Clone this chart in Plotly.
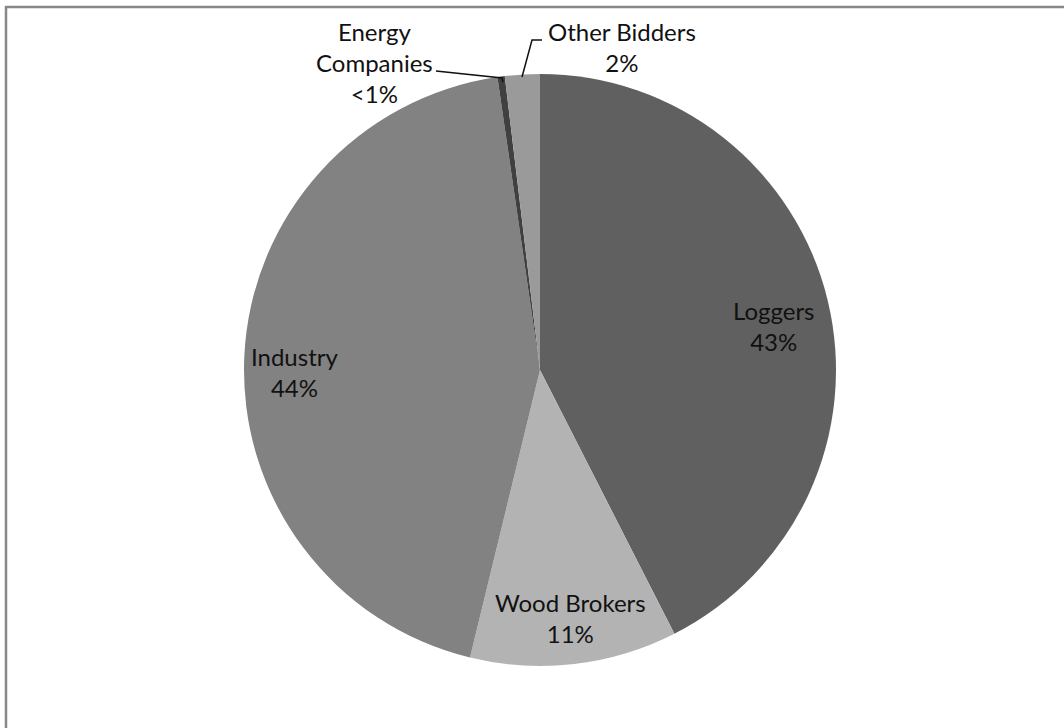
import plotly.graph_objects as go

categories = ["Loggers", "Wood Brokers", "Industry", "Energy Companies", "Other Bidders"]
values = [42.5, 11.3, 43.9, 0.4, 1.9]
pct_labels = ["43%", "11%", "44%", "<1%", "2%"]
colors = ["#606060", "#b3b3b3", "#828282", "#404040", "#9a9a9a"]

W, H = 1064, 728
cx, cy, r = 540, 370, 296

def px(x):
    return x / W

def py(y):
    return (H - y) / H

fig = go.Figure(go.Pie(
    labels=categories,
    values=values,
    sort=False,
    direction="clockwise",
    rotation=0,
    marker=dict(colors=colors, line=dict(width=0)),
    textinfo="none",
    hoverinfo="label+percent",
    showlegend=False,
    domain=dict(x=[px(cx - r), px(cx + r)], y=[py(cy + r), py(cy - r)]),
))

label_pos = {
    "Loggers": (773, 326),
    "Wood Brokers": (570, 618),
    "Industry": (294, 372),
    "Energy Companies": (374, 62),
    "Other Bidders": (622, 47),
}
font = dict(family="Lato, Open Sans, sans-serif", size=24, color="#111111")
for cat, pl in zip(categories, pct_labels):
    x, y = label_pos[cat]
    name = cat.replace(" ", "<br>") if cat == "Energy Companies" else cat
    fig.add_annotation(x=px(x), y=py(y), xref="paper", yref="paper",
                       text=f"{name}<br>{pl}", showarrow=False, font=font,
                       align="center", xanchor="center", yanchor="middle")

shapes = [
    # border (top and left)
    dict(type="line", xref="paper", yref="paper", x0=px(5), x1=1, y0=py(7), y1=py(7),
         line=dict(color="#888888", width=2.5)),
    dict(type="line", xref="paper", yref="paper", x0=px(6), x1=px(6), y0=0, y1=py(6),
         line=dict(color="#888888", width=2.5)),
    # leader lines
    dict(type="path", xref="paper", yref="paper",
         path=f"M {px(436)} {py(71)} L {px(502)} {py(78)} L {px(503)} {py(82)}",
         line=dict(color="#111111", width=1.5)),
    dict(type="path", xref="paper", yref="paper",
         path=f"M {px(522)} {py(77)} L {px(532)} {py(40)} L {px(542)} {py(40)}",
         line=dict(color="#111111", width=1.5)),
]
fig.update_layout(
    width=W, height=H,
    margin=dict(l=0, r=0, t=0, b=0),
    paper_bgcolor="white", plot_bgcolor="white",
    shapes=shapes,
)
fig.write_html("out.html")
